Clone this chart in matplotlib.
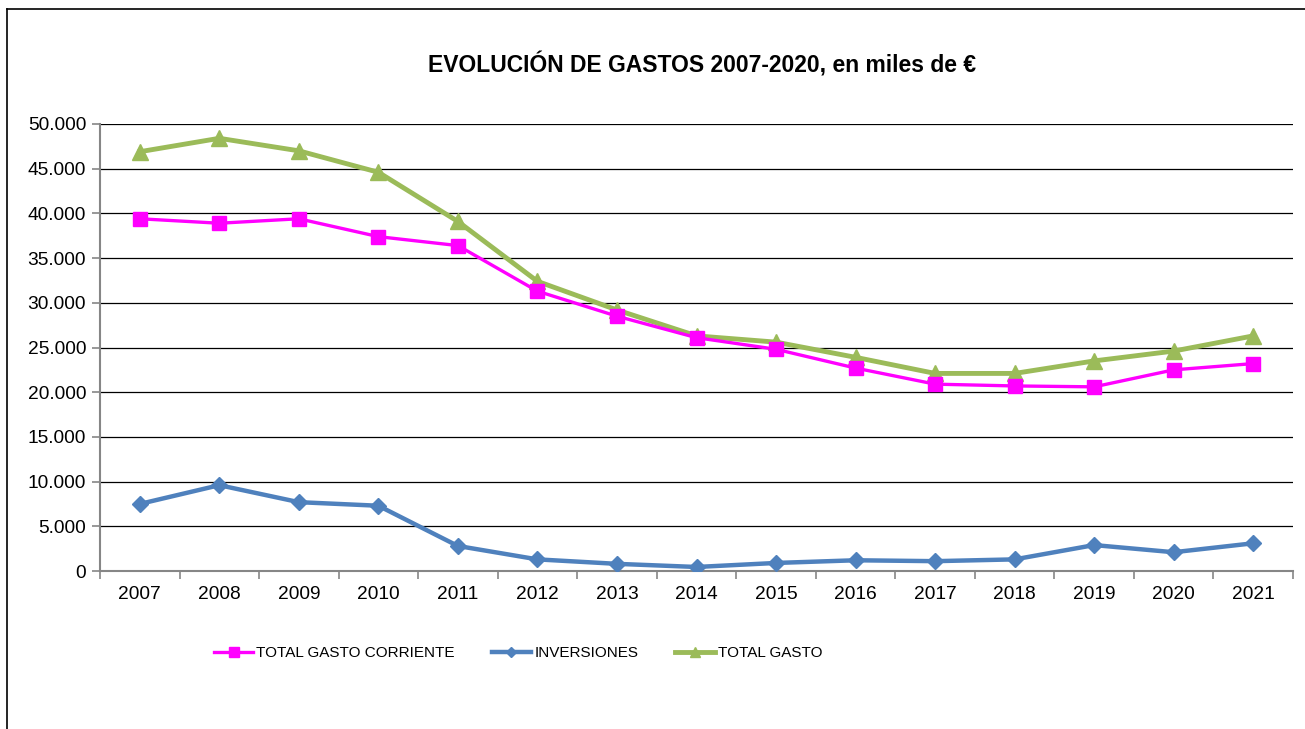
import numpy as np
import matplotlib
matplotlib.use("Agg")
import matplotlib.pyplot as plt
from matplotlib.ticker import FuncFormatter, FixedLocator
from matplotlib.lines import Line2D

plt.rcParams['font.family'] = ['Liberation Sans', 'DejaVu Sans']

years = ["2007", "2008", "2009", "2010", "2011", "2012", "2013", "2014",
         "2015", "2016", "2017", "2018", "2019", "2020", "2021"]
gasto_corriente = [39400, 38900, 39400, 37400, 36400, 31300, 28500, 26100,
                   24800, 22700, 20900, 20700, 20600, 22500, 23200]
inversiones = [7500, 9600, 7700, 7300, 2800, 1300, 800, 450,
               900, 1200, 1100, 1300, 2900, 2100, 3100]
total_gasto = [46900, 48400, 47000, 44600, 39100, 32400, 29200, 26300,
               25600, 23900, 22100, 22100, 23500, 24600, 26300]

fig = plt.figure(figsize=(13.05, 7.29), dpi=100)
# outer chart frame (left & top edges visible)
fig.add_artist(Line2D([7/1305, 7/1305], [0, 1-9/729], color="black", lw=1.2))
fig.add_artist(Line2D([7/1305, 1], [1-9/729, 1-9/729], color="black", lw=1.2))

ax = fig.add_axes([100/1305, 1-571/729, (1293-100)/1305, (571-124)/729])
x = np.arange(len(years))

ax.plot(x, gasto_corriente, color="#FF00FF", lw=2.4, marker="s", ms=10,
        label="TOTAL GASTO CORRIENTE", zorder=4)
ax.plot(x, inversiones, color="#4F81BD", lw=3.2, marker="D", ms=8,
        label="INVERSIONES", zorder=3)
ax.plot(x, total_gasto, color="#9BBB59", lw=3.5, marker="^", ms=11,
        label="TOTAL GASTO", zorder=3)

ax.set_xlim(-0.5, len(years) - 0.5)
ax.set_ylim(0, 50000)
ax.set_yticks(np.arange(0, 50001, 5000))
ax.yaxis.set_major_formatter(FuncFormatter(lambda v, p: "{:,}".format(int(v)).replace(",", ".")))
ax.grid(axis="y", color="black", lw=0.9)
ax.set_axisbelow(True)

ax.set_xticks(x)
ax.set_xticklabels(years)
ax.xaxis.set_minor_locator(FixedLocator(np.arange(-0.5, len(years), 1.0)))
ax.tick_params(axis="x", which="major", length=0, labelsize=13.8, pad=11)
ax.tick_params(axis="x", which="minor", length=6, color="#868686", width=1.2)
ax.tick_params(axis="y", length=6, color="#868686", width=1.2, labelsize=13.8, pad=4)

for s in ["top", "right"]:
    ax.spines[s].set_visible(False)
for s in ["left", "bottom"]:
    ax.spines[s].set_color("#868686")
    ax.spines[s].set_linewidth(1.5)

fig.text(702/1305, 1-65/729, "EVOLUCIÓN DE GASTOS 2007-2020, en miles de €",
         ha="center", va="center", fontsize=16.5, fontweight="bold")

fig.legend(loc="center", bbox_to_anchor=(518/1305, 1-653/729), ncol=3,
           frameon=False, fontsize=11, handlelength=2.6, columnspacing=2.4,
           handletextpad=0.2, markerscale=0.7)

fig.savefig("out.png", dpi=100)
